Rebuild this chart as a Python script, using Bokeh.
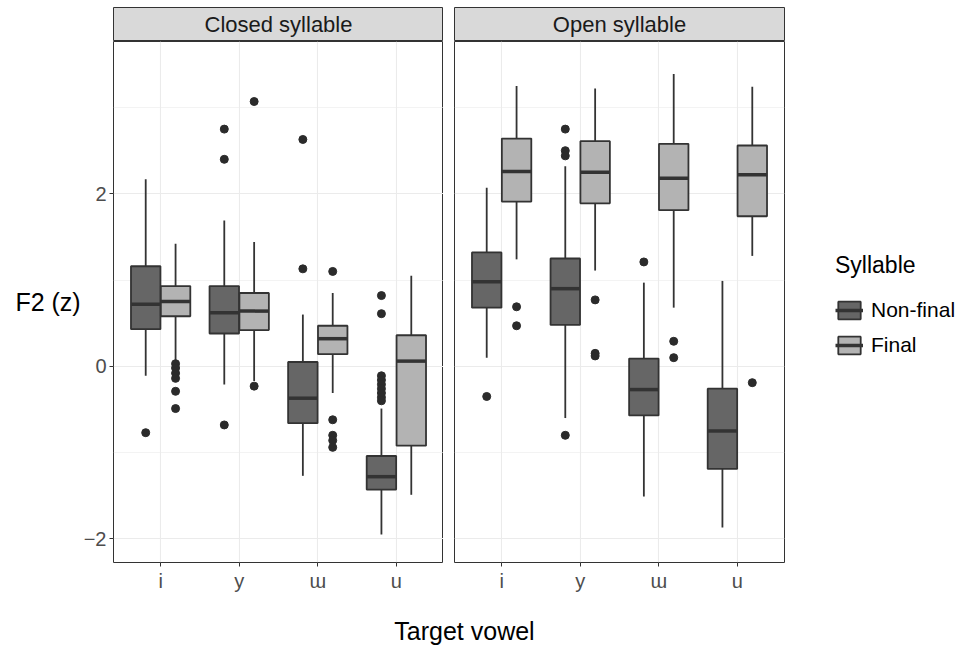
import numpy as np
from bokeh.plotting import figure
from bokeh.models import Range1d, FixedTicker, Label, Legend, LegendItem
from bokeh.layouts import row, column
from bokeh.embed import file_html
from bokeh.resources import INLINE

FONT = "Liberation Sans"

# ---------------- data ----------------
vowels = ["i", "y", "ɯ", "u"]
groups = ["Non-final", "Final"]
panels = ["Closed syllable", "Open syllable"]
y_ticks = [-2, 0, 2]
y_minor = [-1, 1, 3]
y_tick_labels = ["−2", "0", "2"]

# Closed syllable, non-final
closed_nf_whislo = [-0.11, -0.21, -1.27, -1.95]
closed_nf_q1 = [0.43, 0.38, -0.66, -1.43]
closed_nf_med = [0.72, 0.62, -0.37, -1.28]
closed_nf_q3 = [1.16, 0.93, 0.05, -1.04]
closed_nf_whishi = [2.17, 1.69, 0.60, -0.49]
closed_nf_out = [[-0.77], [2.75, 2.40, -0.68], [2.63, 1.13],
                 [0.82, 0.61, -0.11, -0.16, -0.21, -0.26, -0.31, -0.36, -0.40]]
# Closed syllable, final
closed_f_whislo = [0.07, -0.17, -0.31, -1.49]
closed_f_q1 = [0.58, 0.42, 0.14, -0.92]
closed_f_med = [0.75, 0.64, 0.32, 0.06]
closed_f_q3 = [0.93, 0.85, 0.47, 0.36]
closed_f_whishi = [1.42, 1.44, 0.85, 1.05]
closed_f_out = [[0.03, -0.02, -0.08, -0.14, -0.29, -0.49], [3.07, -0.23],
                [1.10, -0.62, -0.80, -0.86, -0.94], []]
# Open syllable, non-final
open_nf_whislo = [0.10, -0.60, -1.51, -1.87]
open_nf_q1 = [0.68, 0.48, -0.57, -1.19]
open_nf_med = [0.98, 0.90, -0.27, -0.75]
open_nf_q3 = [1.32, 1.25, 0.09, -0.26]
open_nf_whishi = [2.07, 2.32, 0.97, 0.99]
open_nf_out = [[-0.35], [2.75, 2.50, 2.44, -0.80], [1.21], []]
# Open syllable, final
open_f_whislo = [1.24, 1.11, 0.68, 1.28]
open_f_q1 = [1.91, 1.89, 1.81, 1.74]
open_f_med = [2.26, 2.25, 2.18, 2.22]
open_f_q3 = [2.64, 2.61, 2.58, 2.56]
open_f_whishi = [3.25, 3.22, 3.39, 3.24]
open_f_out = [[0.69, 0.47], [0.77, 0.15, 0.12], [0.29, 0.10], [-0.19]]

stats = {
    "Closed syllable": {
        "Non-final": (closed_nf_whislo, closed_nf_q1, closed_nf_med, closed_nf_q3, closed_nf_whishi, closed_nf_out),
        "Final": (closed_f_whislo, closed_f_q1, closed_f_med, closed_f_q3, closed_f_whishi, closed_f_out),
    },
    "Open syllable": {
        "Non-final": (open_nf_whislo, open_nf_q1, open_nf_med, open_nf_q3, open_nf_whishi, open_nf_out),
        "Final": (open_f_whislo, open_f_q1, open_f_med, open_f_q3, open_f_whishi, open_f_out),
    },
}

# ---------------- layout / style ----------------
PANEL_W = 330
PANEL_H = 521
STRIP_H = 34
TOP_PAD = 7
LEFT_PAD = 113
GAP = 11
RIGHT_PAD = 178
Y_LO, Y_HI = -2.275, 3.766
X_LO, X_HI = 0.4, 4.6
DODGE = {"Non-final": -0.19, "Final": 0.19}
BOX_W = 0.375
FILL = {"Non-final": "#666666", "Final": "#b3b3b3"}
EDGE = "#333333"
GRID = "#ebebeb"


def make_strip(title, left):
    s = figure(frame_width=PANEL_W, frame_height=STRIP_H,
               output_backend="svg", toolbar_location=None,
               x_axis_type=None, y_axis_type=None,
               min_border_left=LEFT_PAD if left else GAP,
               min_border_right=0 if left else RIGHT_PAD,
               min_border_top=TOP_PAD, min_border_bottom=0)
    s.grid.visible = False
    s.background_fill_color = "#d9d9d9"
    s.outline_line_color = EDGE
    s.outline_line_width = 1
    s.add_layout(Label(x=PANEL_W / 2, y=STRIP_H / 2, x_units="screen", y_units="screen",
                       text=title, text_align="center", text_baseline="middle",
                       text_font=FONT, text_font_size="22px", text_color="#1a1a1a"))
    return s


def make_panel(title, left):
    p = figure(frame_width=PANEL_W, frame_height=PANEL_H,
               x_range=Range1d(X_LO, X_HI), y_range=Range1d(Y_LO, Y_HI),
               output_backend="svg", toolbar_location=None,
               min_border_left=LEFT_PAD if left else GAP,
               min_border_right=0 if left else RIGHT_PAD,
               min_border_top=0, min_border_bottom=50)
    p.outline_line_color = EDGE
    p.outline_line_width = 1

    xt = list(range(1, len(vowels) + 1))
    p.xaxis.ticker = FixedTicker(ticks=xt)
    p.xaxis.major_label_overrides = {t: v for t, v in zip(xt, vowels)}
    p.yaxis.ticker = FixedTicker(ticks=y_ticks, minor_ticks=y_minor)
    p.yaxis.major_label_overrides = {t: s for t, s in zip(y_ticks, y_tick_labels)}
    for ax in p.axis:
        ax.axis_line_color = None
        ax.major_tick_line_color = EDGE
        ax.major_tick_out = 4
        ax.major_tick_in = 0
        ax.minor_tick_line_color = None
        ax.major_label_text_font = FONT
        ax.major_label_text_font_size = "20px"
        ax.major_label_text_color = "#4d4d4d"
        ax.major_label_standoff = 3
    if left:
        p.yaxis.axis_label = "F2 (z)"
        p.yaxis.axis_label_orientation = "horizontal"
        p.yaxis.axis_label_text_font = FONT
        p.yaxis.axis_label_text_font_size = "25px"
        p.yaxis.axis_label_text_font_style = "normal"
        p.yaxis.axis_label_text_color = "black"
        p.yaxis.axis_label_standoff = 0
    else:
        p.yaxis.visible = False

    p.xgrid.grid_line_color = GRID
    p.xgrid.grid_line_width = 1.1
    p.ygrid.grid_line_color = GRID
    p.ygrid.grid_line_width = 1.1
    p.ygrid.minor_grid_line_color = GRID
    p.ygrid.minor_grid_line_width = 0.6

    boxes = {}
    for g in groups:
        lo, q1, med, q3, hi, out = stats[title][g]
        xs = [i + 1 + DODGE[g] for i in range(len(vowels))]
        p.segment(x0=xs, y0=q3, x1=xs, y1=hi, line_color=EDGE, line_width=1.8)
        p.segment(x0=xs, y0=q1, x1=xs, y1=lo, line_color=EDGE, line_width=1.8)
        b = p.vbar(x=xs, width=BOX_W, top=q3, bottom=q1, fill_color=FILL[g],
                   line_color=EDGE, line_width=1.8)
        m = p.segment(x0=[x - BOX_W / 2 for x in xs], y0=med,
                      x1=[x + BOX_W / 2 for x in xs], y1=med,
                      line_color=EDGE, line_width=3.5)
        ox = [x for x, o in zip(xs, out) for _ in o]
        oy = [v for o in out for v in o]
        p.scatter(ox, oy, size=8, fill_color="#2b2b2b", line_color="#2b2b2b")
        boxes[g] = (b, m)
    return p, boxes


s1 = make_strip(panels[0], True)
s2 = make_strip(panels[1], False)
p1, _ = make_panel(panels[0], True)
p2, boxes = make_panel(panels[1], False)

legend = Legend(items=[LegendItem(label=g, renderers=list(boxes[g])) for g in groups],
                location=(51, 205), title="Syllable",
                title_text_font=FONT, title_text_font_size="23px", title_text_font_style="normal",
                title_text_color="black", title_standoff=19,
                label_text_font=FONT, label_text_font_size="21px", label_text_color="black",
                glyph_width=28, glyph_height=22, label_height=22, spacing=11,
                padding=0, margin=0, label_standoff=8,
                border_line_color=None, background_fill_alpha=0)
p2.add_layout(legend, "right")

p3 = figure(width=LEFT_PAD + 2 * PANEL_W + GAP + RIGHT_PAD, height=36,
            output_backend="svg", toolbar_location=None,
            x_axis_type=None, y_axis_type=None, min_border=0)
p3.outline_line_color = None
p3.grid.visible = False
p3.add_layout(Label(x=464, y=4, x_units="screen", y_units="screen", text="Target vowel",
                    text_align="center", text_baseline="bottom",
                    text_font=FONT, text_font_size="25px", text_color="black"))

layout = column(row(s1, s2), row(p1, p2), p3)
open("out.html", "w").write(file_html(layout, INLINE))
